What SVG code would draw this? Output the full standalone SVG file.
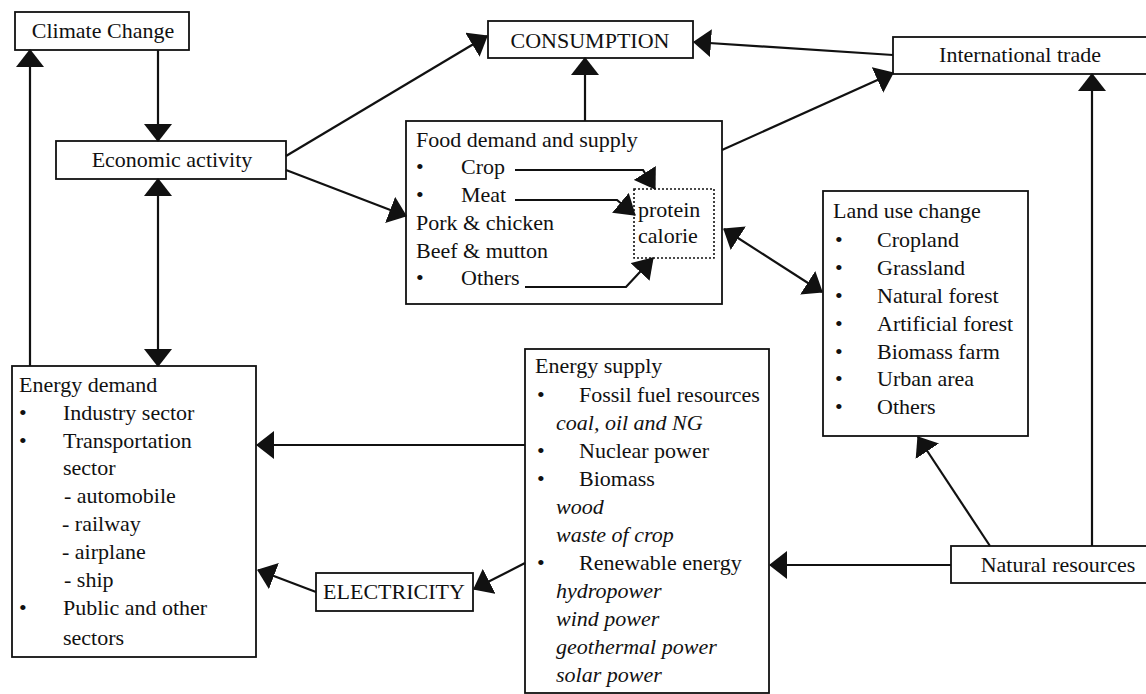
<svg xmlns="http://www.w3.org/2000/svg" width="1146" height="694" viewBox="0 0 1146 694" font-family="'Liberation Serif', 'DejaVu Serif', serif">
<style>
text{font-family:'Liberation Serif','DejaVu Serif',serif;font-size:22px;fill:#111}
.box{fill:#fff;stroke:#111;stroke-width:1.8}
.dot{fill:none;stroke:#111;stroke-width:1.6;stroke-dasharray:2 2}
.c{text-anchor:middle}
.i{font-style:italic}
.con line,.con polyline{fill:none;stroke:#111;stroke-width:2.2}
.a{marker-end:url(#ah)}
.b{marker-start:url(#ah);marker-end:url(#ah)}
.s{marker-end:url(#sh)}
</style>
<defs>
<marker id="ah" markerUnits="userSpaceOnUse" markerWidth="18" markerHeight="28" viewBox="0 0 18 28" refX="17" refY="14" orient="auto-start-reverse"><path d="M0,0 L18,14 L0,28 z" fill="#111"/></marker>
<marker id="sh" markerUnits="userSpaceOnUse" markerWidth="20" markerHeight="26" viewBox="0 0 20 26" refX="19" refY="13" orient="auto"><path d="M0,0 L20,13 L0,26 z" fill="#111"/></marker>
</defs>
<rect width="1146" height="694" fill="#fff"/>

<g id="climate-change">
<rect class="box" x="15" y="12" width="174" height="38"/>
<text class="c" x="103" y="38">Climate Change</text>
</g>

<g id="economic-activity">
<rect class="box" x="56" y="141" width="230" height="38"/>
<text class="c" x="172" y="167">Economic activity</text>
</g>

<g id="consumption">
<rect class="box" x="488" y="21" width="205" height="37"/>
<text class="c" x="590" y="48">CONSUMPTION</text>
</g>

<g id="international-trade">
<rect class="box" x="893" y="37" width="260" height="37"/>
<text class="c" x="1020" y="62">International trade</text>
</g>

<g id="food">
<rect class="box" x="406" y="121" width="316" height="183"/>
<text x="416" y="147">Food demand and supply</text>
<text x="416" y="174">•</text><text x="461" y="174">Crop</text>
<text x="416" y="202">•</text><text x="461" y="202">Meat</text>
<text x="416" y="230">Pork &amp; chicken</text>
<text x="416" y="258">Beef &amp; mutton</text>
<text x="416" y="285">•</text><text x="461" y="285">Others</text>
</g>

<g id="protein-calorie">
<rect class="dot" x="634" y="189" width="80" height="69"/>
<text x="638" y="217">protein</text>
<text x="638" y="243">calorie</text>
</g>

<g id="land-use">
<rect class="box" x="823" y="191" width="205" height="245"/>
<text x="833" y="218">Land use change</text>
<text x="835" y="247">•</text><text x="877" y="247">Cropland</text>
<text x="835" y="275">•</text><text x="877" y="275">Grassland</text>
<text x="835" y="303">•</text><text x="877" y="303">Natural forest</text>
<text x="835" y="331">•</text><text x="877" y="331">Artificial forest</text>
<text x="835" y="359">•</text><text x="877" y="359">Biomass farm</text>
<text x="835" y="386">•</text><text x="877" y="386">Urban area</text>
<text x="835" y="414">•</text><text x="877" y="414">Others</text>
</g>

<g id="natural-resources">
<rect class="box" x="951" y="546" width="202" height="37"/>
<text class="c" x="1058" y="572">Natural resources</text>
</g>

<g id="energy-supply">
<rect class="box" x="525" y="349" width="244" height="344"/>
<text x="535" y="373">Energy supply</text>
<text x="537" y="402">•</text><text x="579" y="402">Fossil fuel resources</text>
<text class="i" x="556" y="430">coal, oil and NG</text>
<text x="537" y="458">•</text><text x="579" y="458">Nuclear power</text>
<text x="537" y="486">•</text><text x="579" y="486">Biomass</text>
<text class="i" x="556" y="514">wood</text>
<text class="i" x="556" y="542">waste of crop</text>
<text x="537" y="570">•</text><text x="579" y="570">Renewable energy</text>
<text class="i" x="556" y="598">hydropower</text>
<text class="i" x="556" y="626">wind power</text>
<text class="i" x="556" y="654">geothermal power</text>
<text class="i" x="556" y="682">solar power</text>
</g>

<g id="electricity">
<rect class="box" x="316" y="573" width="157" height="38"/>
<text class="c" x="394" y="599">ELECTRICITY</text>
</g>

<g id="energy-demand">
<rect class="box" x="12" y="366" width="244" height="291"/>
<text x="19" y="392">Energy demand</text>
<text x="19" y="420">•</text><text x="63" y="420">Industry sector</text>
<text x="19" y="448">•</text><text x="63" y="448">Transportation</text>
<text x="63" y="475">sector</text>
<text x="64" y="503">- automobile</text>
<text x="62" y="531">- railway</text>
<text x="62" y="559">- airplane</text>
<text x="64" y="587">- ship</text>
<text x="19" y="615">•</text><text x="63" y="615">Public and other</text>
<text x="63" y="645">sectors</text>
</g>

<g class="con" id="connectors">
<line class="a" x1="158" y1="50" x2="158" y2="141"/>
<line class="a" x1="30" y1="366" x2="30" y2="50"/>
<line class="b" x1="158" y1="179" x2="158" y2="366"/>
<line class="a" x1="286" y1="156" x2="487" y2="36"/>
<line class="a" x1="286" y1="170" x2="406" y2="216"/>
<line class="a" x1="585" y1="121" x2="585" y2="58"/>
<line class="a" x1="893" y1="55" x2="694" y2="42"/>
<line class="a" x1="722" y1="150" x2="893" y2="73"/>
<line class="a" x1="1092" y1="546" x2="1092" y2="74"/>
<line class="b" x1="724" y1="229" x2="822" y2="292"/>
<line class="a" x1="990" y1="546" x2="918" y2="437"/>
<line class="a" x1="951" y1="565" x2="770" y2="565"/>
<line class="a" x1="525" y1="445" x2="257" y2="445"/>
<line class="a" x1="525" y1="563" x2="474" y2="589"/>
<line class="a" x1="316" y1="592" x2="258" y2="570"/>
<polyline class="s" points="515,170 643,170 655,189"/>
<polyline class="s" points="515,200 617,200 635,215"/>
<polyline class="s" points="525,287 626,287 653,258"/>
</g>
</svg>
